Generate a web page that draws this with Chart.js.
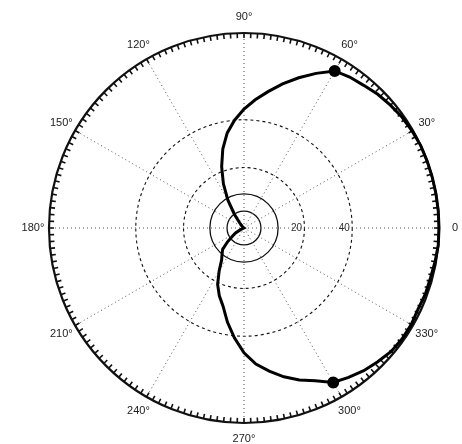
<!DOCTYPE html>
<html>
<head>
<meta charset="utf-8">
<script src="https://cdn.jsdelivr.net/npm/chart.js@4.4.1/dist/chart.umd.min.js"></script>
<style>
  html, body { margin: 0; padding: 0; background: #fff; }
  #plot { display: block; }
</style>
</head>
<body>
<canvas id="plot" width="462" height="444"></canvas>
<script>
// Polar pattern, radius normalised to the outer ring (1.0), angles in degrees (counter-clockwise from 0).
const angles = [
    0,   5,  10,  15,  20,  25,  30,  35,  40,  45,  50,  55,
   60,  65,  70,  75,  80,  85,  90,  95, 100, 105, 110, 115,
  120, 125, 130, 135, 140, 145, 150, 155, 160, 165, 170, 175,
  180, 185, 190, 195, 200, 205, 210, 215, 220, 225, 230, 235,
  240, 245, 250, 255, 260, 265, 270, 275, 280, 285, 290, 295,
  300, 305, 310, 315, 320, 325, 330, 335, 340, 345, 350, 355
];
const radius = [
  1.000, 1.000, 1.000, 1.000, 1.000, 1.000, 0.995, 0.990, 0.980, 0.970, 0.955, 0.945,
  0.930, 0.875, 0.820, 0.765, 0.710, 0.660, 0.610, 0.555, 0.495, 0.420, 0.335, 0.250,
  0.165, 0.085, 0.035, 0.015, 0.005, 0.000, 0.000, 0.000, 0.000, 0.000, 0.000, 0.000,
  0.000, 0.000, 0.000, 0.000, 0.000, 0.020, 0.050, 0.070, 0.110, 0.155, 0.175, 0.200,
  0.255, 0.320, 0.370, 0.415, 0.490, 0.565, 0.640, 0.700, 0.745, 0.790, 0.830, 0.865,
  0.915, 0.935, 0.955, 0.970, 0.985, 0.990, 0.990, 0.985, 0.990, 0.990, 0.995, 1.000
];
const markerAngles = [60, 300];

// Angular captions every 30 degrees
const spokeAngles = [0, 30, 60, 90, 120, 150, 180, 210, 240, 270, 300, 330];
const spokeLabels = ['0', '30°', '60°', '90°', '120°', '150°', '180°', '210°', '240°', '270°', '300°', '330°'];

// Radial rings and their captions along the 0° spoke
const ringValues = [0.087, 0.175, 0.31, 0.555, 1.0];
const ringLabels = ['', '', '20', '40', ''];
const rimTickStep = 2;

// Radar charts run clockwise from their start angle, so walk the angles backwards
// to get the usual counter-clockwise polar layout.
const n = angles.length;
const order = angles.map((a, i) => (n - i) % n);
const chartLabels = order.map(k => angles[k]);
const chartData = order.map(k => radius[k]);

const FONT = '11px "Liberation Sans", Arial, sans-serif';

const polarDecor = {
  id: 'polarDecor',
  beforeDatasetsDraw(chart) {
    const s = chart.scales.r;
    const ctx = chart.ctx;
    const R = s.getDistanceFromCenterForValue(1);
    ctx.save();
    // inward ticks around the rim
    ctx.strokeStyle = '#111';
    ctx.lineWidth = 1.6;
    ctx.beginPath();
    for (let d = 0; d < 360; d += rimTickStep) {
      const a = -d * Math.PI / 180;
      ctx.moveTo(s.xCenter + Math.cos(a) * (R - 5), s.yCenter + Math.sin(a) * (R - 5));
      ctx.lineTo(s.xCenter + Math.cos(a) * R, s.yCenter + Math.sin(a) * R);
    }
    ctx.stroke();
    ctx.fillStyle = '#333';
    ctx.textAlign = 'center';
    ctx.textBaseline = 'middle';
    // ring captions
    ctx.font = '10px "Liberation Sans", Arial, sans-serif';
    ringValues.forEach((v, i) => {
      if (!ringLabels[i]) return;
      const r = s.getDistanceFromCenterForValue(v);
      ctx.fillText(ringLabels[i], s.xCenter + r - 8, s.yCenter);
    });
    // angle captions, centred just outside the rim
    ctx.font = FONT;
    ctx.fillStyle = '#222';
    spokeAngles.forEach((deg, i) => {
      const a = -deg * Math.PI / 180;
      const d = R + 16;
      ctx.fillText(spokeLabels[i], s.xCenter + Math.cos(a) * d, s.yCenter + Math.sin(a) * d);
    });
    ctx.restore();
  }
};

const isSpoke = idx => chartLabels[idx] % 30 === 0;

new Chart(document.getElementById('plot'), {
  type: 'radar',
  data: {
    labels: chartLabels,
    datasets: [{
      data: chartData,
      borderColor: '#000',
      borderWidth: 3,
      fill: false,
      tension: 0,
      pointRadius: ctx => markerAngles.includes(chartLabels[ctx.dataIndex]) ? 4.5 : 0,
      pointBackgroundColor: '#000',
      pointBorderColor: '#000',
      pointHoverRadius: 0
    }]
  },
  options: {
    responsive: false,
    animation: false,
    layout: { padding: { left: 49, right: 23, top: 33, bottom: 21 } },
    plugins: { legend: { display: false }, tooltip: { enabled: false } },
    scales: {
      r: {
        min: 0,
        max: 1,
        startAngle: 90,
        afterBuildTicks: scale => {
          scale.ticks = [0].concat(ringValues).map(v => ({ value: v }));
        },
        ticks: { display: false },
        grid: {
          circular: true,
          color: '#111',
          lineWidth: ctx => ctx.index === ringValues.length ? 2.2 : (ctx.index <= 2 ? 1.3 : 1.1),
          borderDash: ctx => ctx.index >= 3 && ctx.index < ringValues.length ? [3, 3] : []
        },
        border: {
          dash: ctx => ctx.index >= 3 && ctx.index < ringValues.length ? [3, 3] : []
        },
        angleLines: {
          color: ctx => isSpoke(ctx.index) ? '#555' : 'rgba(0,0,0,0)',
          lineWidth: ctx => isSpoke(ctx.index) ? 1 : 0,
          borderDash: [1, 3]
        },
        pointLabels: { display: false }
      }
    }
  },
  plugins: [polarDecor]
});
</script>
</body>
</html>
